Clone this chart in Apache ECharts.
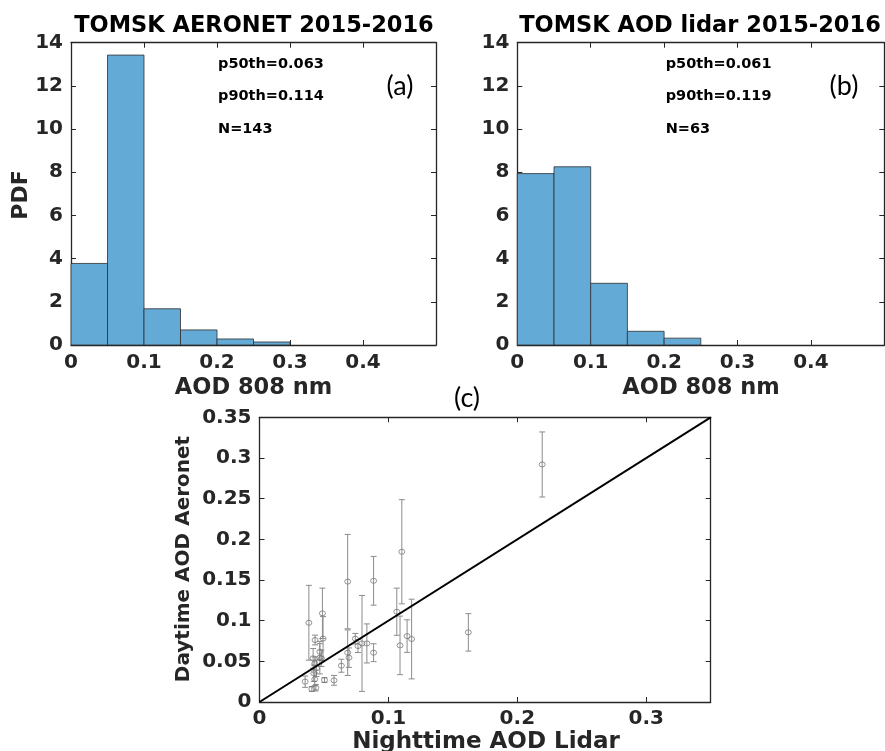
<!DOCTYPE html>
<html>
<head>
<meta charset="utf-8">
<script src="https://cdn.jsdelivr.net/npm/echarts@6/dist/echarts.min.js"></script>
<style>
  html, body { margin: 0; padding: 0; background: #ffffff; }
  #chart { width: 885px; height: 751px; }
</style>
</head>
<body>
<div id="chart"></div>
<script>
// Histogram bin edges, AOD at 808 nm
const binEdges = [0, 0.05, 0.1, 0.15, 0.2, 0.25, 0.3];
// Probability density per bin (count / (N * bin width))
const pdfAeronet = [3.776, 13.427, 1.678, 0.699, 0.280, 0.140];
const pdfLidar = [7.937, 8.254, 2.857, 0.635, 0.317, 0];

// Summary statistics printed on each histogram
const statsAeronet = ['p50th=0.063', 'p90th=0.114', 'N=143'];
const statsLidar = ['p50th=0.061', 'p90th=0.119', 'N=63'];

// Matched nights/days: lidar AOD (night), AERONET AOD (day) and its std
const lidarAOD = [0.2193, 0.162, 0.1104, 0.1065, 0.109, 0.1145, 0.118, 0.0885, 0.0885, 0.0833,
                  0.0795, 0.0764, 0.0743, 0.0684, 0.0684, 0.0694, 0.0635, 0.0578, 0.0504, 0.0488,
                  0.0493, 0.0383, 0.0354, 0.0406, 0.0437, 0.0431, 0.0468, 0.0416, 0.048, 0.0429,
                  0.0442, 0.0421, 0.0429, 0.0468];
const aeronetAOD = [0.292, 0.0856, 0.1847, 0.111, 0.0696, 0.081, 0.0774, 0.149, 0.0606, 0.072,
                    0.072, 0.0688, 0.0778, 0.148, 0.0606, 0.0545, 0.0446, 0.0266, 0.027, 0.109,
                    0.078, 0.0974, 0.025, 0.016, 0.0176, 0.0762, 0.0618, 0.0537, 0.0537, 0.0475,
                    0.0414, 0.0353, 0.0279, 0.0545];
const aeronetStd = [0.040, 0.023, 0.064, 0.029, 0.036, 0.020, 0.049, 0.030, 0.011, 0.024,
                    0.059, 0.008, 0.0065, 0.058, 0.028, 0.012, 0.008, 0.006, 0.003, 0.031,
                    0.027, 0.046, 0.007, 0.003, 0.004, 0.006, 0.010, 0.012, 0.010, 0.008,
                    0.010, 0.010, 0.008, 0.020];

// Axis tick settings
const histXMax = 0.5, histXStep = 0.1;
const histYMax = 14, histYStep = 2;
const scatMax = 0.35, scatXStep = 0.1, scatYStep = 0.05;

const FONT = '"DejaVu Sans", sans-serif';
const INK = '#262626';
const BAR_FILL = '#64aad7';

function histData(pdf) {
  return pdf.map((v, i) => [binEdges[i], binEdges[i + 1], v]).filter(d => d[2] > 0);
}

function histItem(params, api) {
  const p0 = api.coord([api.value(0), api.value(2)]);
  const p1 = api.coord([api.value(1), 0]);
  return {
    type: 'rect',
    shape: { x: p0[0], y: p0[1], width: p1[0] - p0[0], height: p1[1] - p0[1] },
    style: { fill: BAR_FILL, stroke: '#2e2e2e', lineWidth: 0.8 }
  };
}

function errItem(params, api) {
  const x = api.value(0), y = api.value(1), e = api.value(2);
  const top = api.coord([x, y + e]);
  const bot = api.coord([x, y - e]);
  const c = 3;
  const st = { stroke: '#8c8c8c', lineWidth: 1 };
  return {
    type: 'group',
    children: [
      { type: 'line', shape: { x1: top[0], y1: top[1], x2: bot[0], y2: bot[1] }, style: st },
      { type: 'line', shape: { x1: top[0] - c, y1: top[1], x2: top[0] + c, y2: top[1] }, style: st },
      { type: 'line', shape: { x1: bot[0] - c, y1: bot[1], x2: bot[0] + c, y2: bot[1] }, style: st }
    ]
  };
}

function axisBase(extra) {
  return Object.assign({
    type: 'value',
    axisLine: { show: true, onZero: false, lineStyle: { color: INK, width: 1.3 } },
    axisTick: { show: true, inside: true, length: 5, lineStyle: { color: INK, width: 1 } },
    splitLine: { show: false },
    axisLabel: { fontFamily: FONT, fontWeight: 'bold', fontSize: 20, color: INK, margin: 8 }
  }, extra);
}

function mirror(extra) {
  const a = axisBase(extra);
  a.axisLabel = { show: false };
  return a;
}

const grids = [
  { left: 71, top: 42.7, width: 365, height: 302.3 },
  { left: 517.3, top: 42.7, width: 367, height: 302.3 },
  { left: 259.5, top: 417.3, width: 451.2, height: 284.7 }
];

const xAxes = [
  axisBase({ gridIndex: 0, min: 0, max: histXMax, interval: histXStep, axisLabel: Object.assign(axisBase().axisLabel, { showMaxLabel: false }) }),
  axisBase({ gridIndex: 1, min: 0, max: histXMax, interval: histXStep, axisLabel: Object.assign(axisBase().axisLabel, { showMaxLabel: false }) }),
  axisBase({ gridIndex: 2, min: 0, max: scatMax, interval: scatXStep, axisLabel: Object.assign(axisBase().axisLabel, { showMaxLabel: false, margin: 7 }) }),
  mirror({ gridIndex: 0, position: 'top', min: 0, max: histXMax, interval: histXStep }),
  mirror({ gridIndex: 1, position: 'top', min: 0, max: histXMax, interval: histXStep }),
  mirror({ gridIndex: 2, position: 'top', min: 0, max: scatMax, interval: scatXStep })
];

const yAxes = [
  axisBase({ gridIndex: 0, min: 0, max: histYMax, interval: histYStep }),
  axisBase({ gridIndex: 1, min: 0, max: histYMax, interval: histYStep }),
  axisBase({ gridIndex: 2, min: 0, max: scatMax, interval: scatYStep }),
  mirror({ gridIndex: 0, position: 'right', min: 0, max: histYMax, interval: histYStep }),
  mirror({ gridIndex: 1, position: 'right', min: 0, max: histYMax, interval: histYStep }),
  mirror({ gridIndex: 2, position: 'right', min: 0, max: scatMax, interval: scatYStep })
];

const scatterPts = lidarAOD.map((x, i) => [x, aeronetAOD[i]]);
const errPts = lidarAOD.map((x, i) => [x, aeronetAOD[i], aeronetStd[i]]);

function txt(text, x, y, opts) {
  opts = opts || {};
  return {
    type: 'text',
    x: x, y: y,
    rotation: opts.rotation || 0,
    z: 10,
    style: {
      text: text,
      x: 0, y: 0,
      font: opts.font || ('bold 22px ' + FONT),
      fill: opts.fill || '#000000',
      align: opts.align || 'center',
      verticalAlign: 'middle',
      textAlign: opts.align || 'center',
      textVerticalAlign: 'middle'
    }
  };
}

const graphics = [
  txt('TOMSK AERONET 2015-2016', 254, 26, { font: 'bold 22.5px ' + FONT }),
  txt('TOMSK AOD lidar 2015-2016', 700, 26, { font: 'bold 22.5px ' + FONT }),
  txt('PDF', 21, 195, { rotation: Math.PI / 2, font: 'bold 22px ' + FONT, fill: INK }),
  txt('AOD 808 nm', 253.5, 388, { font: 'bold 22.5px ' + FONT, fill: INK }),
  txt('AOD 808 nm', 701, 388, { font: 'bold 22.5px ' + FONT, fill: INK }),
  txt('(a)', 400, 86, { font: '27px Lato, sans-serif' }),
  txt('(b)', 844, 86, { font: '27px Lato, sans-serif' }),
  txt('(c)', 467, 398, { font: '27px Lato, sans-serif' }),
  txt('Daytime AOD Aeronet', 184, 559, { rotation: Math.PI / 2, font: 'bold 20px ' + FONT, fill: INK }),
  txt('Nighttime AOD Lidar', 486, 742, { font: 'bold 23px ' + FONT, fill: INK })
];
const statY = [64, 96.7, 129];
statsAeronet.forEach((s, i) => graphics.push(txt(s, 218, statY[i], { align: 'left', font: 'bold 14.5px ' + FONT })));
statsLidar.forEach((s, i) => graphics.push(txt(s, 665.7, statY[i], { align: 'left', font: 'bold 14.5px ' + FONT })));

const option = {
  animation: false,
  backgroundColor: '#ffffff',
  grid: grids,
  xAxis: xAxes,
  yAxis: yAxes,
  graphic: graphics,
  series: [
    { type: 'custom', xAxisIndex: 0, yAxisIndex: 0, renderItem: histItem, data: histData(pdfAeronet), encode: { x: [0, 1], y: 2 } },
    { type: 'custom', xAxisIndex: 1, yAxisIndex: 1, renderItem: histItem, data: histData(pdfLidar), encode: { x: [0, 1], y: 2 } },
    { type: 'custom', xAxisIndex: 2, yAxisIndex: 2, renderItem: errItem, data: errPts, encode: { x: 0, y: 1 }, z: 2 },
    {
      type: 'scatter', xAxisIndex: 2, yAxisIndex: 2, data: scatterPts,
      symbol: 'circle', symbolSize: [6, 5], z: 3,
      itemStyle: { color: 'rgba(0,0,0,0)', borderColor: '#6e6e6e', borderWidth: 0.9 }
    },
    {
      type: 'line', xAxisIndex: 2, yAxisIndex: 2, data: [[0, 0], [scatMax, scatMax]],
      symbol: 'none', z: 4, lineStyle: { color: '#000000', width: 2 }
    }
  ]
};

echarts.init(document.getElementById('chart'), null, { renderer: 'canvas' }).setOption(option);
</script>
</body>
</html>
